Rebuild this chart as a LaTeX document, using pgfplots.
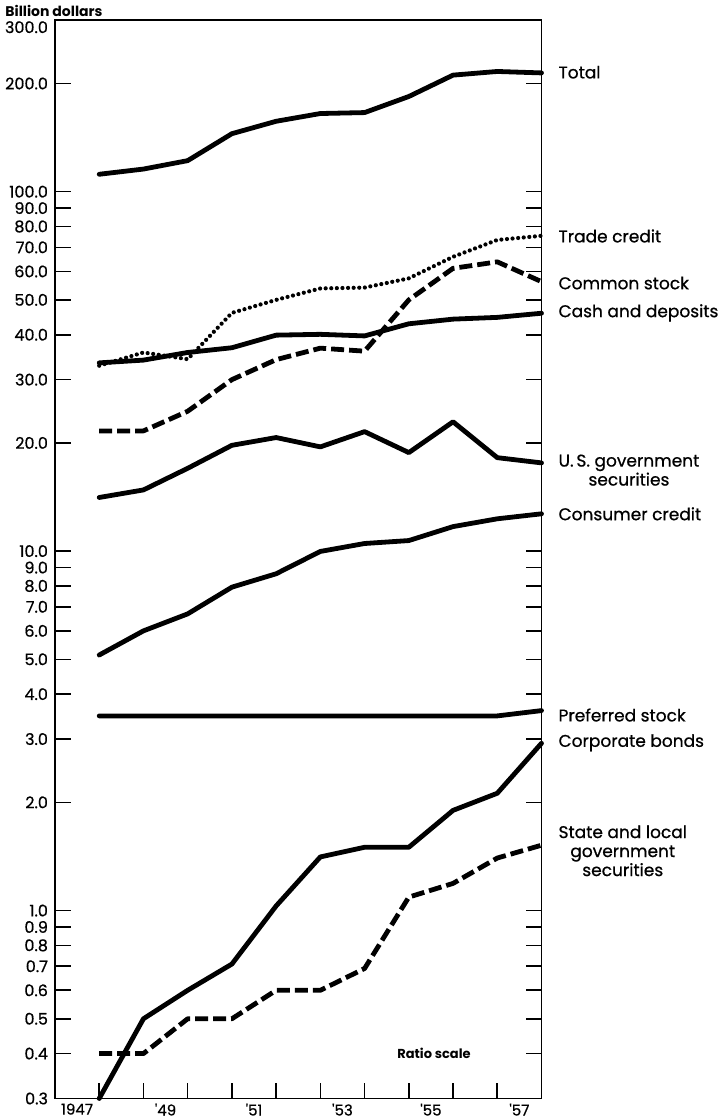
\documentclass[border=0pt]{standalone}
\usepackage{fontspec}
\setmainfont{Poppins}
\newfontfamily\medfont{Poppins}[FakeBold=0.7]
\usepackage{pgfplots}
\pgfplotsset{compat=1.18}
\tikzset{
  solidline/.style={black, line width=2.4pt, line join=round, line cap=round},
  dashline/.style={black, line width=2.4pt, line join=round, dash pattern=on 6.5pt off 2.5pt},
  dotline/.style={black, line width=2.1pt, line cap=round, dash pattern=on 0pt off 2.8pt},
  lab/.style={anchor=west, xshift=5pt, font=\medfont\fontsize{8.5}{9.5}\selectfont, align=center},
}
\begin{document}
\begin{tikzpicture}
\begin{axis}[
  scale only axis, width=243.25pt, height=539.15pt,
  ymode=log, ymin=0.3, ymax=300, xmin=1946, xmax=1957,
  axis line style={line width=0.8pt},
  clip=false,
  tick align=inside,
  xtick pos=left,
  major tick length=8pt,
  minor tick length=0pt,
  every tick/.style={black, line width=0.8pt},
  xtick={1947,1948,1949,1950,1951,1952,1953,1954,1955,1956},
  xticklabels={},
  extra x ticks={1946.5,1948.5,1950.5,1952.5,1954.5,1956.5},
  extra x tick labels={1947,'49,'51,'53,'55,'57},
  extra x tick style={major tick length=0pt},
  xticklabel style={font=\medfont\fontsize{7.5}{8}\selectfont, yshift=1pt},
  ytick={0.3,0.4,0.5,0.6,0.7,0.8,0.9,1,2,3,4,5,6,7,8,9,10,20,30,40,50,60,70,80,90,100,200,300},
  yticklabels={0.3,0.4,0.5,0.6,0.7,0.8,0.9,1.0,2.0,3.0,4.0,5.0,6.0,7.0,8.0,9.0,10.0,20.0,30.0,40.0,50.0,60.0,70.0,80.0,90.0,100.0,200.0,},
  yticklabel style={font=\medfont\fontsize{8}{8}\selectfont},
]
% Total
\addplot[solidline] coordinates {(1947,111.8) (1948,115.6) (1949,122) (1950,145) (1951,157) (1952,165) (1953,166) (1954,184) (1955,211) (1956,216) (1957,214)};
% Trade credit
\addplot[dotline] coordinates {(1947,32.8) (1948,35.7) (1949,34.2) (1950,46.0) (1951,50.0) (1952,53.8) (1953,54.1) (1954,57.4) (1955,65.9) (1956,73.4) (1957,75.4)};
% Common stock
\addplot[dashline] coordinates {(1947,21.6) (1948,21.6) (1949,24.5) (1950,30.0) (1951,34.1) (1952,36.7) (1953,36.0) (1954,50.0) (1955,61.2) (1956,63.8) (1957,56.2)};
% Cash and deposits
\addplot[solidline] coordinates {(1947,33.4) (1948,34.0) (1949,35.7) (1950,36.8) (1951,39.9) (1952,40.1) (1953,39.7) (1954,42.9) (1955,44.2) (1956,44.7) (1957,45.9)};
% U.S. government securities
\addplot[solidline] coordinates {(1947,14.1) (1948,14.8) (1949,17.0) (1950,19.7) (1951,20.7) (1952,19.5) (1953,21.5) (1954,18.8) (1955,22.9) (1956,18.2) (1957,17.6)};
% Consumer credit
\addplot[solidline] coordinates {(1947,5.14) (1948,6.0) (1949,6.69) (1950,7.94) (1951,8.65) (1952,9.98) (1953,10.5) (1954,10.7) (1955,11.7) (1956,12.3) (1957,12.7)};
% Preferred stock
\addplot[solidline] coordinates {(1947,3.48) (1948,3.48) (1949,3.48) (1950,3.48) (1951,3.48) (1952,3.48) (1953,3.48) (1954,3.48) (1955,3.48) (1956,3.48) (1957,3.6)};
% Corporate bonds
\addplot[solidline] coordinates {(1947,0.3) (1948,0.5) (1949,0.6) (1950,0.71) (1951,1.03) (1952,1.41) (1953,1.5) (1954,1.5) (1955,1.9) (1956,2.12) (1957,2.92)};
% State and local government securities
\addplot[dashline] coordinates {(1947,0.4) (1948,0.4) (1949,0.5) (1950,0.5) (1951,0.6) (1952,0.6) (1953,0.69) (1954,1.09) (1955,1.19) (1956,1.4) (1957,1.52)};

\node[lab] at (axis cs:1957,215) {Total};
\node[lab] at (axis cs:1957,75.3) {Trade credit};
\node[lab] at (axis cs:1957,55.7) {Common stock};
\node[lab] at (axis cs:1957,46) {Cash and deposits};
\node[lab] at (axis cs:1957,16.8) {U.\,S. government\\securities};
\node[lab] at (axis cs:1957,12.7) {Consumer credit};
\node[lab] at (axis cs:1957,3.5) {Preferred stock};
\node[lab] at (axis cs:1957,2.93) {Corporate bonds};
\node[lab] at (axis cs:1957,1.466) {State and local\\government\\securities};
\node[font=\bfseries\fontsize{6.5}{7}\selectfont] at (axis cs:1954.57,0.4) {Ratio scale};
\node[anchor=west, font=\bfseries\fontsize{7}{7}\selectfont, inner sep=0pt] at ([xshift=-25pt,yshift=4.5pt]rel axis cs:0,1) {Billion dollars};
\node[anchor=east, font=\medfont\fontsize{8}{8}\selectfont] at ([yshift=-3.5pt]rel axis cs:0,1) {300.0};
\end{axis}
\pgfresetboundingbox
\path (-27.5pt,-10.25pt) rectangle (331.5pt,549.25pt);
\end{tikzpicture}
\end{document}
